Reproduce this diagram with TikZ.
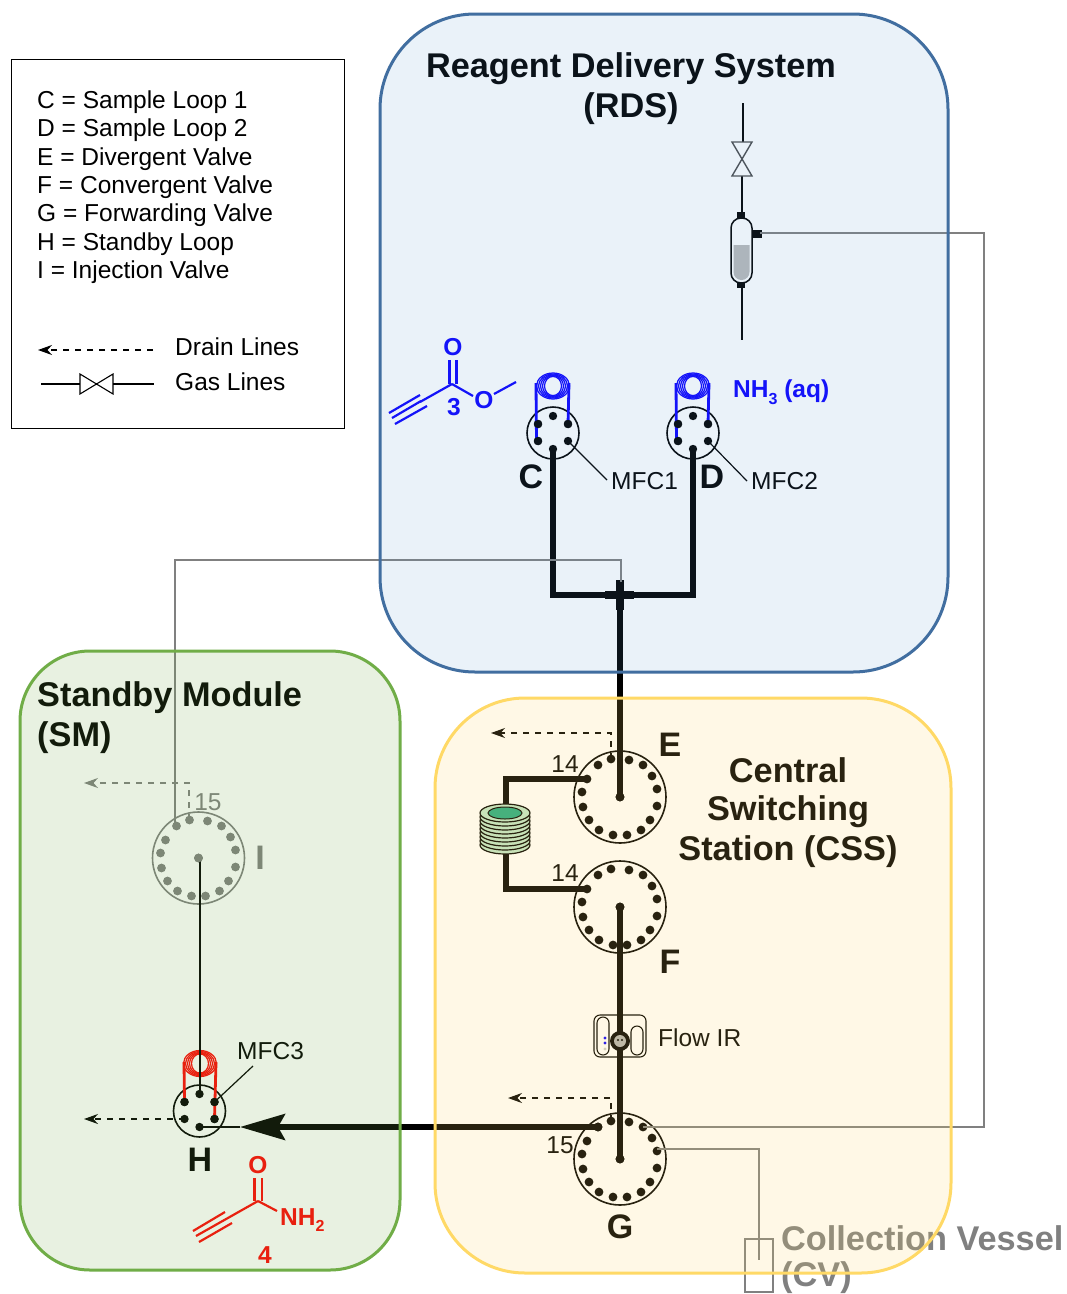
\documentclass[tikz,border=0pt]{standalone}
\usepackage{fontspec}
\setmainfont{Liberation Sans}
\usetikzlibrary{arrows.meta,calc}
\definecolor{rdsc}{RGB}{91,155,213}
\definecolor{cssc}{RGB}{255,217,102}
\definecolor{smc}{RGB}{112,173,71}
\definecolor{rdsb}{RGB}{65,110,160}
\definecolor{blu}{RGB}{10,0,255}
\definecolor{redc}{RGB}{255,5,5}
\definecolor{gry}{RGB}{128,128,128}
\newcommand{\fs}[1]{\fontsize{#1}{#1}\selectfont}
\newcommand{\subs}[2]{\raisebox{-0.28em}{\fs{#1}#2}}
\tikzset{
  x=1pt,y=-1pt,
  thin gray/.style={gry,line width=1.5pt},
  drain/.style={line width=1.3pt,dash pattern=on 6pt off 6pt,-{Stealth[length=14pt,width=10pt]}},
  legend text/.style={anchor=west,inner sep=0pt,font=\fs{24.5}},
  title text/.style={inner sep=0pt,align=center,font=\fs{34.3}\bfseries},
  letter/.style={inner sep=0pt,font=\fs{34}\bfseries},
  port label/.style={inner sep=0pt,font=\fs{24.5}},
  panel/.style={line width=3pt},
  chem/.style={line width=2.2pt},
  atom/.style={inner sep=0pt,font=\fs{24.5}\bfseries}
}
% 16-port valve: name, x, y, colour
\newcommand{\bigvalve}[4]{%
  \coordinate (#1) at (#2,#3);
  \draw[#4,line width=1.6pt] (#1) circle (46);
  \fill[#4] (#1) circle (4.4);
  \foreach \n/\dx/\dy in {a/-9/-38,b/9/-37,c/23/-32,d/32/-21,e/37/-8,f/37/9,g/30/23,h/21/33,i/7/38,j/-7/38,k/-21/33,l/-31/23,m/-37/10,n/-38/-5,o/-33/-18,p/-22/-32}{
    \coordinate (#1\n) at ($(#1)+(\dx,\dy)$);
    \fill[#4] (#1\n) circle (4.4);
  }%
}
% 6-port valve
\newcommand{\smallvalve}[3]{%
  \coordinate (#1) at (#2,#3);
  \draw[line width=1.6pt] (#1) circle (26);
  \foreach \n/\dx/\dy in {a/0/-17,b/15/-9,c/15/8,d/0/16,e/-15/8,f/-15/-9}{
    \coordinate (#1\n) at ($(#1)+(\dx,\dy)$);
    \fill (#1\n) circle (4.2);
  }%
}
\newcommand{\coil}[3]{%
  \foreach \rxx/\ryy in {16.5/13,14.5/12,12.5/11.2,10.5/10.4,8.5/9.6}{
    \draw[#3,line width=1.25pt] (#1,#2) ellipse [x radius=\rxx, y radius=\ryy];
  }%
}
\begin{document}
\begin{tikzpicture}
\useasboundingbox (0,0) rectangle (1067,1294);
\fill[white] (0,0) rectangle (1067,1294);

% legend
\node[draw,line width=1.2pt,minimum width=333pt,minimum height=369pt,anchor=north west,inner sep=0pt] (legend) at (11,59) {};
\node[legend text] (l1) at (37,102) {C = Sample Loop 1};
\node[legend text] (l2) at (37,130) {D = Sample Loop 2};
\node[legend text] (l3) at (37,159) {E = Divergent Valve};
\node[legend text] (l4) at (37,187) {F = Convergent Valve};
\node[legend text] (l5) at (37,215) {G = Forwarding Valve};
\node[legend text] (l6) at (37,244) {H = Standby Loop};
\node[legend text] (l7) at (37,272) {I = Injection Valve};
\node[legend text] (l8) at (175,347) {Drain Lines};
\node[legend text] (l9) at (175,382) {Gas Lines};
\coordinate (ld1) at (153,350); \coordinate (ld2) at (38,350);
\draw[drain] (ld1) -- (ld2);
\coordinate (lg1) at (41,384); \coordinate (lg2) at (80,384); \coordinate (lg3) at (113,384); \coordinate (lg4) at (154,384);
\draw[line width=1.6pt] (lg1) -- (lg2) (lg3) -- (lg4);
\draw[line width=1.1pt] (80,374) -- (113,394) -- (113,374) -- (80,394) -- cycle;

% gas / bubbler
\coordinate (gtop) at (743,103);
\coordinate (vt) at (743,142);
\coordinate (vb) at (742,176);
\coordinate (btop) at (742,213);
\coordinate (bbot) at (742,287);
\coordinate (bend) at (742,340);
\coordinate (bside) at (760,233);
\draw[line width=1.6pt] (gtop) -- (vt) (vb) -- (btop) (bbot) -- (bend);
\draw[line width=1.4pt,gray!60!black] (732,142) -- (752,142) -- (732,176) -- (752,176) -- cycle;
\fill[gray!55] (733.5,245) -- (749.5,245) [rounded corners=8pt] -- (749.5,280) -- (733.5,280) [sharp corners] -- cycle;
\draw[line width=1.5pt,rounded corners=10pt] (731,218) rectangle (752,283);
\fill (737,212) rectangle (745,218);
\fill (737,282) rectangle (745,288);
\fill (752,230) rectangle (762,238);

% RDS loops and valves
\coil{553}{386}{blu}
\coil{693}{386}{blu}
\smallvalve{C}{553}{433}
\smallvalve{D}{693}{433}
\draw[blu,line width=2.8pt] (536,383) -- (536.5,442) (569,383) -- (Cb);
\draw[blu,line width=2.8pt] (676,383) -- (676.5,442) (709,383) -- (Db);
\foreach \p in {Ce,Cf,Cb,De,Df,Db}{\fill (\p) circle (4.2);}
\coordinate (m1) at (607,480); \coordinate (m2) at (747,481);
\draw[line width=1.2pt] (Cc) -- (m1) (Dc) -- (m2);
\node[port label,anchor=west] (mfc1) at (611,481) {MFC1};
\node[port label,anchor=west] (mfc2) at (751,481) {MFC2};
\node[letter] (lC) at (531,477) {C};
\node[letter] (lD) at (712,477) {D};

% Thick RDS lines
\coordinate (cross) at (620,595);
\draw[line width=5.5pt,line join=miter] (Cd) -- (C |- cross) -- (D |- cross) -- (Dd);
\draw[line width=8pt] (605,595) -- (634,595) (620,580) -- (620,610);

% molecule 3
\begin{scope}[blu]
\draw[chem] (449.5,360) -- (449.5,384) (456.5,360) -- (456.5,384);
\coordinate (k1) at (452,384);
\draw[chem] (k1) -- (420,402);
\draw[chem] (420,395) -- (389,413) (421,401) -- (392,418) (427,406) -- (395,424);
\draw[chem] (k1) -- (473,396) (494,394) -- (516,382);
\node[atom] (o3a) at (453,347) {O};
\node[atom] (o3b) at (484,400) {O};
\node[atom] (n3) at (454,407) {3};
\node[atom,anchor=west] (nh3) at (733,392) {NH\subs{16}{3} (aq)};
\end{scope}

% E, F, G valves
\bigvalve{E}{620}{797}{black}
\bigvalve{F}{620}{907}{black}
\bigvalve{G}{620}{1159}{black}
\draw[line width=5.5pt] (cross) -- (E);
\fill (E) circle (4.4);
\coordinate (e1) at (506,779); \coordinate (e2) at (506,889);
\draw[line width=5.5pt,line join=miter] (Eo) -- (e1) -- (506,815) (506,845) -- (e2) -- (Fo);
% green coil
\foreach \yy in {845,841,837,833,829,825,821,817,813}{
  \draw[fill={rgb,255:red,190;green,228;blue,200},line width=1.2pt] (505,\yy) ellipse (25 and 9);
}
\draw[line width=1pt,fill={rgb,255:red,35;green,170;blue,130}] (505,813) ellipse (17 and 6);
\node[port label] (n14a) at (565,764) {14};
\node[port label] (n14b) at (565,873) {14};
\node[port label] (n15) at (560,1145) {15};
\node[letter] (lE) at (670,745) {E};
\node[letter] (lF) at (670,962) {F};
\node[letter] (lG) at (620,1227) {G};
\coordinate (dE1) at (611,733); \coordinate (dE2) at (491,733);
\draw[drain] (Ea) -- (dE1) -- (dE2);
\coordinate (dG1) at (611,1098); \coordinate (dG2) at (508,1098);
\draw[drain] (Ga) -- (dG1) -- (dG2);

% Flow IR
\draw[line width=5.5pt] (F) -- (G);
\fill (F) circle (4.4); \fill (G) circle (4.4);
\draw[line width=1.1pt,rounded corners=6pt] (594,1015) rectangle (646,1057);
\draw[line width=1.1pt,rounded corners=6pt] (597,1017) rectangle (609,1055);
\draw[line width=1.1pt,rounded corners=6pt] (631,1026) rectangle (643,1055);
\fill (620,1041) circle (10);
\fill[gray!60] (620,1041) circle (6);
\fill (618,1040) circle (1.2) (622,1040) circle (1.2);
\fill[blu] (605,1038) circle (1.6) (605,1043) circle (1.6);
\fill[gray!40] (605,1049) circle (1.6);
\node[port label,anchor=west] (flowir) at (658,1038) {Flow IR};

% Collection vessel
\draw[gry,line width=1.2pt] (745,1239) rectangle (773,1292);
\coordinate (cv1) at (759,1149); \coordinate (cv2) at (759,1260);
\draw[thin gray] (Ge) ++(0,-2) -- (cv1) -- (cv2);
\coordinate (r1) at (984,233); \coordinate (r2) at (984,1127);
\draw[thin gray] (bside) -- (r1) -- (r2) -- (Gc);
\node[title text,gry,anchor=west] (cvt) at (781,1238) {Collection Vessel};
\node[title text,gry,anchor=west] (cvt2) at (781,1278) {(CV)};

% SM
\bigvalve{I}{198.5}{858}{gry}
\coil{200}{1063.5}{redc}
\smallvalve{H}{199.5}{1111}
\draw[redc,line width=2.8pt] (184,1062) -- (Hf) (216,1062) -- (Hc);
\foreach \p in {Hf,Hb,Hc}{\fill (\p) circle (4.2);}
\draw[line width=2pt] (Ha) -- (Ha |- I);
\fill[gry] (I) circle (4.4);
\coordinate (m3) at (253,1066);
\draw[line width=1.2pt] (Hb) -- (m3);
\node[port label,anchor=west] (mfc3) at (237,1051) {MFC3};
\node[letter] (lH) at (200,1160) {H};
\node[letter,gry] (lI) at (260,858) {I};
\node[port label,gry] (n15b) at (208,802) {15};
\coordinate (dI1) at (189,783); \coordinate (dI2) at (84,783);
\draw[drain,gry] (dI1 |- Ia) -- (dI1) -- (dI2);
\coordinate (dH) at (84,1119);
\draw[drain] (He) -- (dH);
\coordinate (tip) at (240,1127);
\draw[line width=1.6pt] (Hd) -- (tip);
\draw[line width=5.5pt,-{Stealth[length=45pt,width=26pt,inset=7pt]}] (Gp) -- (tip);
\fill (Gp) circle (4.4);
\coordinate (x1) at (621,582); \coordinate (x2) at (621,560); \coordinate (x3) at (175,560);
\draw[thin gray] (x1) -- (x2) -- (x3) -- (x3 |- Ip);

% molecule 4
\begin{scope}[redc]
\coordinate (k4) at (258,1201);
\draw[chem] (254.5,1178) -- (254.5,1201) (262,1178) -- (262,1201);
\draw[chem] (k4) -- (196,1236);
\draw[chem] (225,1212) -- (193,1231) (232,1223) -- (199,1242);
\draw[chem] (k4) -- (277,1211);
\node[atom] (o4) at (258,1165) {O};
\node[atom,anchor=west] (nh2) at (280,1220) {NH\subs{16}{2}};
\node[atom] (n4) at (265,1255) {4};
\end{scope}

% Titles
\node[title text] (t1) at (631,69) {Reagent Delivery System};
\node[title text] (t1b) at (631,109) {(RDS)};
\node[title text,anchor=west] (t2) at (37,698) {Standby Module};
\node[title text,anchor=west] (t2b) at (37,738) {(SM)};
\node[title text] (t3) at (788,770) {Central};
\node[title text] (t3b) at (788,812) {Switching};
\node[title text] (t3c) at (788,852) {Station (CSS)};

% translucent panels on top
\fill[rdsc,fill opacity=0.125,rounded corners=95pt] (380,14) rectangle (948,672);
\draw[rdsb,panel,rounded corners=95pt] (380,14) rectangle (948,672);
\fill[cssc,fill opacity=0.16,rounded corners=90pt] (435,698) rectangle (951,1273);
\draw[cssc,panel,rounded corners=90pt] (435,698) rectangle (951,1273);
\fill[smc,fill opacity=0.16,rounded corners=70pt] (20,651) rectangle (400,1270);
\draw[smc,panel,rounded corners=70pt] (20,651) rectangle (400,1270);
\end{tikzpicture}
\end{document}
